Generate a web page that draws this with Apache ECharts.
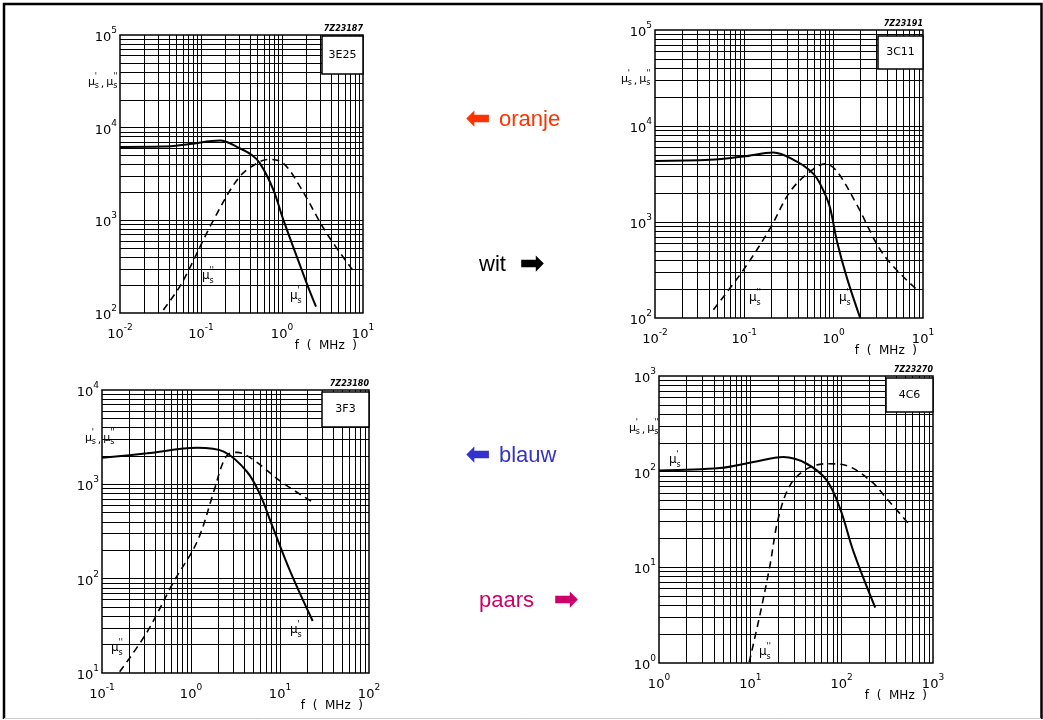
<!DOCTYPE html>
<html><head><meta charset="utf-8">
<script src="https://cdn.jsdelivr.net/npm/echarts@6/dist/echarts.min.js"></script>
<style>html,body{margin:0;padding:0;background:#fff}#c{width:1043px;height:720px}</style>
</head><body><div id="c"></div>
<script>
// ---------- DATA (frequency in MHz, permeability) ----------
const e25Real = [[0.01,6200],[0.034,6250],[0.073,6670],[0.172,7250],[0.30,6000],[0.42,5100],[0.535,4120],[0.78,2150],[1.04,1010],[2.02,209],[2.63,117]];
const e25Imag = [[0.0343,108],[0.0577,209],[0.142,1000],[0.30,2960],[0.535,4300],[0.71,4550],[1.04,4120],[1.67,2310],[3.56,724],[7.74,279]];
const c11Real = [[0.01,4330],[0.0413,4440],[0.098,4810],[0.212,5290],[0.387,4260],[0.53,3500],[0.649,2860],[0.8,1950],[0.914,1390],[1.09,627],[1.41,260],[1.98,100]];
const c11Imag = [[0.0451,122],[0.098,318],[0.195,863],[0.326,2080],[0.546,3360],[0.804,4030],[1.09,3360],[1.82,1510],[3.62,456],[8.55,197]];
const f3Real  = [[0.1,1910],[0.321,2130],[1.17,2440],[2.33,2220],[4.26,1360],[6.01,769],[8.13,369],[13.1,118],[23.3,35.6]];
const f3Imag  = [[0.158,10.3],[0.321,27.2],[0.638,92.5],[1.17,246],[1.80,834],[2.23,1600],[2.63,2090],[3.29,2180],[5.06,1810],[10.1,1080],[23.9,637]];
const c6Real  = [[1,103],[4.63,109],[10.8,126],[23,142],[41.4,121],[68.7,81],[96.2,41],[135,14.5],[233,3.79]];
const c6Imag  = [[9.72,1.02],[12.7,3.15],[16.4,10.5],[20.2,32.3],[27.2,72],[41.4,107],[68.7,121],[105,118],[205,81],[313,52],[541,28.6]];

const materials = ['3E25','3C11','3F3','4C6'];
const drawingCodes = ['7Z23187','7Z23191','7Z23180','7Z23270'];
const xRanges = [[0.01,10],[0.01,10],[0.1,100],[1,1000]];
const yRanges = [[100,1e5],[100,1e5],[10,1e4],[1,1000]];
const colourWords = ['oranje','wit','blauw','paars'];
const axisTitle = 'f  (  MHz  )';

// ---------- LAYOUT ----------
const grids = [
  {left:120, top:35, width:243, height:278},
  {left:655, top:30, width:268, height:288},
  {left:102, top:390, width:267, height:283},
  {left:659, top:376, width:274, height:287}
];
const boxes = [{w:41,h:38,dy:1},{w:45,h:33,dy:6},{w:47,h:35,dy:2},{w:47,h:34,dy:2}];
const realSeries = [e25Real, c11Real, f3Real, c6Real];
const imagSeries = [e25Imag, c11Imag, f3Imag, c6Imag];

const FONT = 'DejaVu Sans';

function gridValues(lo, hi){
  const out = [];
  const d0 = Math.round(Math.log10(lo)), d1 = Math.round(Math.log10(hi));
  for (let d = d0; d < d1; d++) for (let m = 1; m <= 9; m++) {
    const v = m * Math.pow(10, d);
    if (v > lo * 1.0001 && v < hi * 0.9999) out.push(v);
  }
  return out;
}
const powLabel = v => '{b|10}{e|' + Math.round(Math.log10(v)) + '}';
const labelRich = {
  b:{fontSize:13, lineHeight:18, verticalAlign:'bottom', fontFamily:FONT, color:'#000'},
  e:{fontSize:9, lineHeight:13, verticalAlign:'top', fontFamily:FONT, color:'#000'}
};

const xAxis = [], yAxis = [], series = [], gridOpt = [];
grids.forEach((g,i)=>{
  gridOpt.push(Object.assign({show:true, borderColor:'#000', borderWidth:1.5, containLabel:false}, g));
  const [x0,x1] = xRanges[i], [y0,y1] = yRanges[i];
  xAxis.push({type:'log', logBase:10, gridIndex:i, min:x0, max:x1, splitNumber:3,
    axisLine:{show:false}, axisTick:{show:false}, splitLine:{show:false},
    axisLabel:{formatter:powLabel, rich:labelRich, margin:10, showMinLabel:true, showMaxLabel:true}});
  yAxis.push({type:'log', logBase:10, gridIndex:i, min:y0, max:y1, splitNumber:3,
    axisLine:{show:false}, axisTick:{show:false}, splitLine:{show:false},
    axisLabel:{formatter:powLabel, rich:labelRich, margin:3, showMinLabel:true, showMaxLabel:true}});
  const lines = gridValues(x0,x1).map(v=>({xAxis:v})).concat(gridValues(y0,y1).map(v=>({yAxis:v})));
  series.push({type:'line', name:materials[i]+" mu'", xAxisIndex:i, yAxisIndex:i, data:realSeries[i],
    smooth:0.35, showSymbol:false, silent:true, lineStyle:{color:'#000', width:2}, z:5,
    markLine:{silent:true, symbol:['none','none'], label:{show:false}, animation:false,
      lineStyle:{color:'#000', width:1, type:'solid'}, emphasis:{disabled:true}, data:lines}});
  series.push({type:'line', name:materials[i]+" mu''", xAxisIndex:i, yAxisIndex:i, data:imagSeries[i],
    smooth:0.35, showSymbol:false, silent:true, lineStyle:{color:'#000', width:1.6, type:[7,5]}, z:5});
});

// ---------- graphic annotations ----------
const graphic = [];
function txt(x,y,text,opt,extra){
  graphic.push(Object.assign({type:'text', x, y, z:100, silent:true,
    style:Object.assign({text, fill:'#000', font:'12px '+FONT, textAlign:'left', textVerticalAlign:'middle'}, opt||{})}, extra||{}));
}
// mu with primes (superscript) and s (subscript)
function mu(x,y,primes,size){
  size = size||12;
  txt(x,y,'μ',{font:size+'px '+FONT});
  txt(x+size*0.62,y-size*0.42,primes,{font:Math.round(size*0.7)+'px '+FONT});
  txt(x+size*0.62,y+size*0.38,'s',{font:Math.round(size*0.7)+'px '+FONT});
  return size*0.62+size*0.55;
}
function yTitle(x,y,size){
  let w = mu(x,y,"'",size);
  txt(x+w,y+2,',',{font:size+'px '+FONT});
  mu(x+w+size*0.5,y,"''",size);
}
grids.forEach((g,i)=>{
  const right = g.left+g.width, bottom = g.top+g.height, b = boxes[i];
  graphic.push({type:'rect', z:100, silent:true,
    shape:{x:right-b.w, y:g.top+b.dy, width:b.w, height:b.h},
    style:{fill:'#fff', stroke:'#000', lineWidth:1.5}});
  txt(right-b.w/2, g.top+b.dy+b.h/2, materials[i], {font:'11px '+FONT, textAlign:'center'});
  txt(right, g.top-6, drawingCodes[i], {font:'italic bold 8px '+FONT, textAlign:'right'});
  txt(right-6, bottom+33, axisTitle, {font:'12px '+FONT, textAlign:'right'});
});
yTitle(88,82,11);
yTitle(621,79,11);
yTitle(85,438,11);
yTitle(629,428,11);
// curve labels
mu(202,276,"''",12); mu(290,296,"'",12);
mu(749,298,"''",12); mu(839,298,"'",12);
mu(111,648,"''",12); mu(290,630,"'",12);
mu(669,460,"'",12); mu(759,652,"''",12);

// middle colour words
const MID = '22px "Liberation Sans", Arial, sans-serif';
const ARW = 'bold 30px "DejaVu Sans"';
function arrow(cx,cy,colour,left){
  txt(cx,cy,left?'⬅':'➡',{font:ARW, fill:colour, textAlign:'center'});
}
arrow(478,120,'#ff3300',true);
txt(499,120,colourWords[0],{font:MID, fill:'#ff3300'});
txt(479,265,colourWords[1],{font:MID, fill:'#000'});
arrow(532,265,'#000',false);
arrow(478,456,'#3333cc',true);
txt(499,456,colourWords[2],{font:MID, fill:'#3333cc'});
txt(479,601,colourWords[3],{font:MID, fill:'#cc0066'});
arrow(566,601,'#cc0066',false);
// frame
graphic.push({type:'polyline', z:100, silent:true, shape:{points:[[4,719],[4,4],[1041.5,4],[1041.5,719]]}, style:{fill:'none', stroke:'#000', lineWidth:2.5}});
graphic.push({type:'line', z:100, silent:true, shape:{x1:4,y1:718.5,x2:1041,y2:718.5}, style:{stroke:'#ccc', lineWidth:1}});

const chart = echarts.init(document.getElementById('c'), null, {renderer:'canvas'});
chart.setOption({animation:false, backgroundColor:'#fff', textStyle:{fontFamily:FONT},
  grid:gridOpt, xAxis, yAxis, series, graphic});
</script></body></html>
